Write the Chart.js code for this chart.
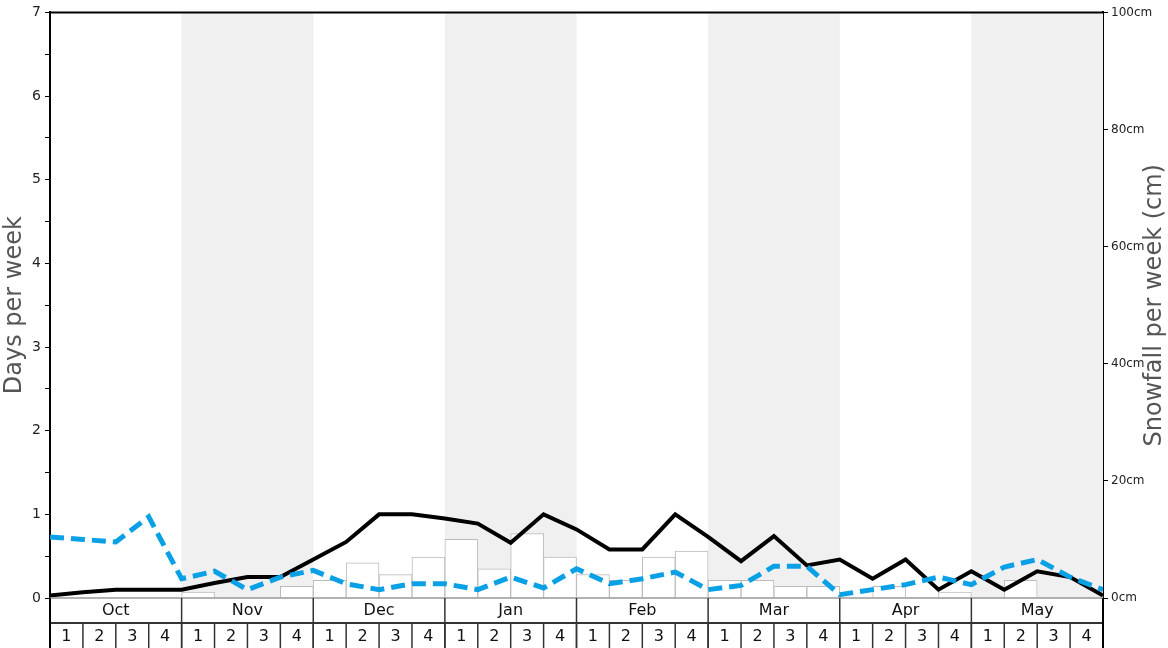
<!DOCTYPE html>
<html>
<head>
<meta charset="utf-8">
<script src="https://cdn.jsdelivr.net/npm/chart.js@4"></script>
<style>
  html, body { margin: 0; padding: 0; background: #fff; }
  #wrap { width: 1168px; height: 648px; position: relative; }
</style>
</head>
<body>
<div id="wrap"><canvas id="snowChart"></canvas></div>
<script>
// Datos del gráfico
const months = ['Oct', 'Nov', 'Dec', 'Jan', 'Feb', 'Mar', 'Apr', 'May'];
const weekLabels = ['1', '2', '3', '4'];
const shadedMonths = ['Nov', 'Jan', 'Mar', 'May'];

// nieve por semana (cm), una por semana
const snowfallCm = [
    0, 0, 0, 0,
    1, 0, 0, 2,
    3, 6, 4, 7,
    10, 5, 11, 7,
    4, 3, 7, 8,
    3, 3, 2, 2,
    0, 2, 0, 1,
    0, 3, 0, 0
];

// días por semana, en los límites de cada semana (33 puntos)
const snowDays = [
    0.03, 0.07, 0.1, 0.1, 0.1, 0.18, 0.25, 0.25, 0.46, 0.67, 1.0,
    1.0, 0.95, 0.89, 0.66, 1.0, 0.82, 0.58, 0.58, 1.0, 0.73, 0.44,
    0.74, 0.39, 0.46, 0.23, 0.46, 0.1, 0.32, 0.1, 0.32, 0.25, 0.03
];

const avgDays = [
    0.73, 0.7, 0.67, 0.97, 0.23, 0.32, 0.1, 0.25, 0.33, 0.17, 0.1,
    0.17, 0.17, 0.1, 0.25, 0.12, 0.35, 0.17, 0.23, 0.31, 0.1, 0.15,
    0.38, 0.38, 0.04, 0.1, 0.16, 0.25, 0.16, 0.37, 0.46, 0.25, 0.1
];

const totalWeeks = months.length * weekLabels.length;

// Fondo gris para meses alternos
const monthShading = {
    id: 'monthShading',
    beforeDatasetsDraw(chart) {
        const ctx = chart.ctx;
        const x = chart.scales.x;
        const area = chart.chartArea;
        ctx.save();
        ctx.fillStyle = '#f0f0f0';
        months.forEach((m, i) => {
            if (!shadedMonths.includes(m)) return;
            const x0 = x.getPixelForValue(i * 4);
            const x1 = x.getPixelForValue(i * 4 + 4);
            ctx.fillRect(x0, area.top, x1 - x0, area.bottom - area.top);
        });
        ctx.restore();
    }
};

// Filas de meses y semanas bajo el gráfico, más el borde superior
const labelRows = {
    id: 'labelRows',
    afterDraw(chart) {
        const ctx = chart.ctx;
        const x = chart.scales.x;
        const area = chart.chartArea;
        const rowH = 25;
        const y0 = area.bottom;
        const y1 = y0 + rowH;
        const y2 = y1 + rowH;
        ctx.save();

        // borde superior
        ctx.strokeStyle = '#000';
        ctx.lineWidth = 2;
        ctx.beginPath();
        ctx.moveTo(area.left, area.top);
        ctx.lineTo(area.right, area.top);
        ctx.stroke();

        // línea base
        ctx.strokeStyle = '#999';
        ctx.lineWidth = 1.5;
        ctx.beginPath();
        ctx.moveTo(area.left, y0);
        ctx.lineTo(area.right, y0);
        ctx.stroke();

        // línea entre filas
        ctx.strokeStyle = '#333';
        ctx.lineWidth = 2;
        ctx.beginPath();
        ctx.moveTo(area.left, y1);
        ctx.lineTo(area.right, y1);
        ctx.stroke();

        // separadores de meses
        for (let i = 0; i <= months.length; i++) {
            const px = x.getPixelForValue(i * 4);
            ctx.lineWidth = (i === 0 || i === months.length) ? 2 : 1.5;
            ctx.strokeStyle = (i === 0 || i === months.length) ? '#000' : '#333';
            ctx.beginPath();
            ctx.moveTo(px, y0);
            ctx.lineTo(px, y2);
            ctx.stroke();
        }
        // separadores de semanas
        ctx.strokeStyle = '#333';
        ctx.lineWidth = 1.5;
        for (let i = 1; i < totalWeeks; i++) {
            const px = x.getPixelForValue(i);
            ctx.beginPath();
            ctx.moveTo(px, y1);
            ctx.lineTo(px, y2);
            ctx.stroke();
        }

        ctx.fillStyle = '#111';
        ctx.font = '16px "DejaVu Sans"';
        ctx.textAlign = 'center';
        ctx.textBaseline = 'middle';
        months.forEach((m, i) => {
            ctx.fillText(m, x.getPixelForValue(i * 4 + 2), y0 + rowH / 2);
        });
        for (let i = 0; i < totalWeeks; i++) {
            ctx.fillText(weekLabels[i % 4], x.getPixelForValue(i + 0.5), y1 + rowH / 2 + 1);
        }

        // título del eje derecho (leído de abajo hacia arriba)
        ctx.fillStyle = '#555';
        ctx.font = '24px "DejaVu Sans"';
        ctx.translate(1155, (area.top + area.bottom) / 2);
        ctx.rotate(-Math.PI / 2);
        ctx.fillText('Snowfall per week (cm)', 0, 0);
        ctx.restore();
    }
};

Chart.defaults.font.family = '"DejaVu Sans", sans-serif';

const snowChart = new Chart(document.getElementById('snowChart').getContext('2d'), {
    data: {
        datasets: [
            {
                type: 'line',
                label: 'Snow days',
                data: snowDays.map((v, i) => ({ x: i, y: v })),
                borderColor: '#000',
                borderWidth: 4,
                pointRadius: 0,
                tension: 0,
                yAxisID: 'y',
                order: 2
            },
            {
                type: 'line',
                label: 'Average',
                data: avgDays.map((v, i) => ({ x: i, y: v })),
                borderColor: '#0aa0e6',
                borderWidth: 5,
                borderDash: [14, 7],
                pointRadius: 0,
                tension: 0,
                yAxisID: 'y',
                order: 1
            },
            {
                type: 'bar',
                label: 'Snowfall',
                data: snowfallCm.map((v, i) => ({ x: i + 0.5, y: v })),
                backgroundColor: '#fff',
                borderColor: '#bbb',
                borderWidth: 1,
                barPercentage: 1,
                categoryPercentage: 1,
                yAxisID: 'y1',
                order: 3
            }
        ]
    },
    options: {
        responsive: true,
        maintainAspectRatio: false,
        animation: false,
        layout: { padding: { top: 8, bottom: 50, left: 0, right: 0 } },
        plugins: {
            legend: { display: false },
            tooltip: { enabled: false }
        },
        scales: {
            x: {
                type: 'linear',
                min: 0,
                max: totalWeeks,
                offset: false,
                display: false
            },
            y: {
                position: 'left',
                min: 0,
                max: 7,
                afterFit(scale) { scale.width = 50; },
                ticks: {
                    stepSize: 0.5,
                    autoSkip: false,
                    padding: 4,
                    color: '#222',
                    font: { size: 14 },
                    callback: v => (v % 1 === 0 ? v : '')
                },
                grid: {
                    drawOnChartArea: false,
                    drawTicks: true,
                    tickLength: 5,
                    color: '#000'
                },
                border: { display: true, color: '#000', width: 2 },
                title: {
                    display: true,
                    text: 'Days per week',
                    color: '#555',
                    font: { size: 24 },
                    padding: { top: 0, bottom: 0 }
                }
            },
            y1: {
                position: 'right',
                min: 0,
                max: 100,
                afterFit(scale) { scale.width = 65; },
                ticks: {
                    stepSize: 20,
                    padding: 3,
                    color: '#222',
                    font: { size: 12 },
                    callback: v => v + 'cm'
                },
                grid: {
                    drawOnChartArea: false,
                    drawTicks: true,
                    tickLength: 5,
                    color: '#000'
                },
                border: { display: true, color: '#000', width: 2 }
            }
        }
    },
    plugins: [monthShading, labelRows]
});
</script>
</body>
</html>
